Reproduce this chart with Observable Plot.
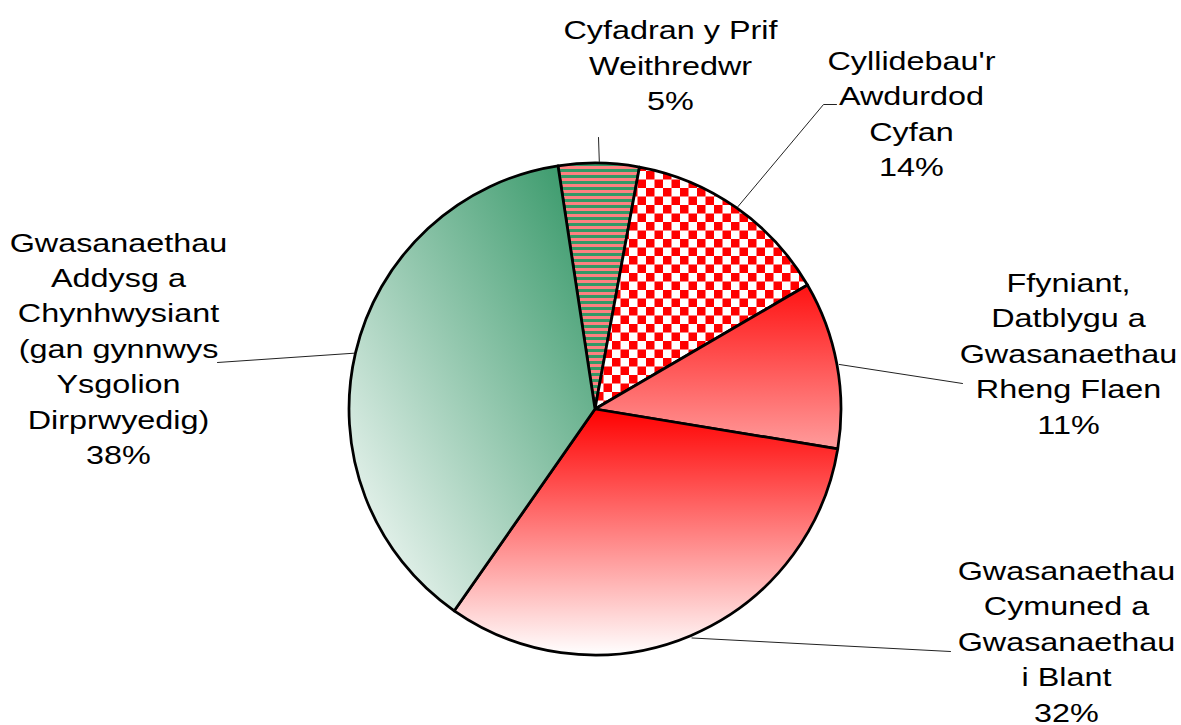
<!DOCTYPE html>
<html>
<head>
<meta charset="utf-8">
<script src="https://cdn.jsdelivr.net/npm/d3@7"></script>
<script src="https://cdn.jsdelivr.net/npm/@observablehq/plot@0.6"></script>
<style>
  body { margin: 0; background: #fff; }
  #chart svg { display: block; }
</style>
</head>
<body>
<div id="chart"></div>
<script>
// ---- Data ----
const categories = [
  "Cyfadran y Prif Weithredwr",
  "Cyllidebau'r Awdurdod Cyfan",
  "Ffyniant, Datblygu a Gwasanaethau Rheng Flaen",
  "Gwasanaethau Cymuned a Gwasanaethau i Blant",
  "Gwasanaethau Addysg a Chynhwysiant (gan gynnwys Ysgolion Dirprwyedig)"
];
const shares = [5.3, 13.7, 11.0, 32.1, 37.9];
const labelTexts = [
  "Cyfadran y Prif\nWeithredwr",
  "Cyllidebau'r\nAwdurdod\nCyfan",
  "Ffyniant,\nDatblygu a\nGwasanaethau\nRheng Flaen",
  "Gwasanaethau\nCymuned a\nGwasanaethau\ni Blant",
  "Gwasanaethau\nAddysg a\nChynhwysiant\n(gan gynnwys\nYsgolion\nDirprwyedig)"
];

// ---- Layout / style ----
const fills = ["url(#stripes)", "url(#checks)", "url(#gradFfyniant)", "url(#gradCymuned)", "url(#gradAddysg)"];
const pieCenter = [595, 409];
const pieRadius = 246;
const startDeg = -8.66;
const labelPos = [[670, 63], [911, 111], [1068, 351], [1066, 639], [118, 346]];
const leaderEnds = [
  [[598, 137]],
  [[823, 104], [836, 104]],
  [[962, 383]],
  [[950, 651]],
  [[217, 362]]
];
const textScaleX = 1.27;

const a0 = startDeg * Math.PI / 180;
const arcs = d3.pie().sort(null).startAngle(a0).endAngle(a0 + 2 * Math.PI)(shares);
const slices = categories.map((c, i) => ({
  category: c, share: shares[i],
  startAngle: arcs[i].startAngle, endAngle: arcs[i].endAngle, fill: fills[i]
}));

const labels = categories.map((c, i) => ({
  category: c,
  x: labelPos[i][0], y: labelPos[i][1],
  text: labelTexts[i] + "\n" + Math.round(shares[i]) + "%"
}));

const leaders = [];
slices.forEach((s, i) => {
  const mid = (s.startAngle + s.endAngle) / 2;
  const rr = pieRadius + 2;
  leaders.push({category: s.category, x: pieCenter[0] + rr * Math.sin(mid), y: pieCenter[1] - rr * Math.cos(mid)});
  leaderEnds[i].forEach(p => leaders.push({category: s.category, x: p[0], y: p[1]}));
});

function pieMark(index, scales, values, dimensions, context) {
  const g = d3.create("svg:g").attr("aria-label", "pie");
  const defs = g.append("defs");
  const st = defs.append("pattern").attr("id", "stripes").attr("patternUnits", "userSpaceOnUse")
    .attr("width", 6).attr("height", 6);
  st.append("rect").attr("width", 6).attr("height", 3).attr("fill", "#339966");
  st.append("rect").attr("y", 3).attr("width", 6).attr("height", 3).attr("fill", "#ff8080");
  const ck = defs.append("pattern").attr("id", "checks").attr("patternUnits", "userSpaceOnUse")
    .attr("width", 17).attr("height", 17);
  ck.append("rect").attr("width", 17).attr("height", 17).attr("fill", "#ffffff");
  ck.append("rect").attr("width", 8.5).attr("height", 8.5).attr("fill", "#ff0000");
  ck.append("rect").attr("x", 8.5).attr("y", 8.5).attr("width", 8.5).attr("height", 8.5).attr("fill", "#ff0000");
  const g1 = defs.append("linearGradient").attr("id", "gradFfyniant").attr("x1", 0).attr("y1", 0).attr("x2", 0).attr("y2", 1);
  g1.append("stop").attr("offset", 0).attr("stop-color", "#ff1212");
  g1.append("stop").attr("offset", 1).attr("stop-color", "#ff9c9c");
  const g2 = defs.append("linearGradient").attr("id", "gradCymuned").attr("x1", 0).attr("y1", 0).attr("x2", 0).attr("y2", 1);
  g2.append("stop").attr("offset", 0).attr("stop-color", "#ff0000");
  g2.append("stop").attr("offset", 1).attr("stop-color", "#ffffff");
  const g3 = defs.append("linearGradient").attr("id", "gradAddysg").attr("x1", 1).attr("y1", 0).attr("x2", 0).attr("y2", 1);
  g3.append("stop").attr("offset", 0).attr("stop-color", "#2f9463");
  g3.append("stop").attr("offset", 1).attr("stop-color", "#ffffff");

  const cx = scales.x(pieCenter[0]);
  const cy = scales.y(pieCenter[1]);
  const r = scales.x(pieCenter[0] + pieRadius) - cx;
  const arc = d3.arc().innerRadius(0).outerRadius(r);
  g.append("g").attr("transform", `translate(${cx},${cy})`)
    .selectAll("path").data(slices).join("path")
    .attr("d", d => arc(d))
    .attr("fill", d => d.fill)
    .attr("stroke", "#000")
    .attr("stroke-width", 2.75)
    .attr("stroke-linejoin", "round");
  return g.node();
}

const chart = Plot.plot({
  width: 1181,
  height: 725,
  margin: 0,
  style: {background: "#ffffff"},
  x: {domain: [0, 1181], range: [0, 1181], axis: null},
  y: {domain: [0, 725], range: [0, 725], axis: null},
  marks: [
    pieMark,
    Plot.line(leaders, {x: "x", y: "y", z: "category", stroke: "#222", strokeWidth: 1}),
    Plot.text(labels, {
      x: "x", y: "y", text: "text",
      fontFamily: "Liberation Sans, Arial, sans-serif",
      fontSize: 25.5,
      lineHeight: 1.39,
      fill: "#000",
      textAnchor: "middle",
      lineAnchor: "middle"
    })
  ]
});

d3.select(chart).selectAll('g[aria-label="text"] text').each(function() {
  const t = this.getAttribute("transform");
  if (t) this.setAttribute("transform", t + ` scale(${textScaleX},1)`);
});

document.getElementById("chart").appendChild(chart);
</script>
</body>
</html>
